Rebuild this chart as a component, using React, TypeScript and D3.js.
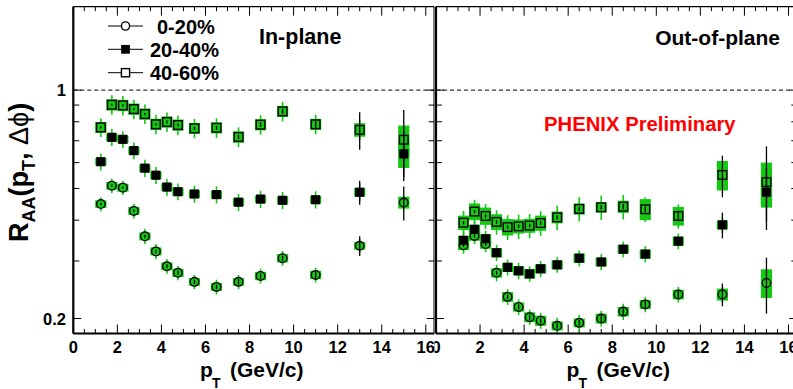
import React from "react";
import * as d3 from "d3";

// ---------------- data ----------------
const ptBins = [1.25, 1.75, 2.25, 2.75, 3.25, 3.75, 4.25, 4.75, 5.5, 6.5, 7.5, 8.5, 9.5, 11, 13, 15];
const legendLabels = ["0-20%", "20-40%", "40-60%"];
const panelTitles = ["In-plane", "Out-of-plane"];
const xTickLabels = [0, 2, 4, 6, 8, 10, 12, 14, 16];
const yTickLabels = [0.2, 1];
const yMinorTicks = [0.3, 0.4, 0.5, 0.6, 0.7, 0.8, 0.9];

// In-plane
const inV0_20 = [0.448, 0.510, 0.503, 0.427, 0.357, 0.321, 0.289, 0.276, 0.259, 0.250, 0.259, 0.270, 0.306, 0.272, 0.334, 0.453];
const inLine0_20 = [0.022, 0.026, 0.025, 0.022, 0.019, 0.017, 0.015, 0.014, 0.013, 0.013, 0.013, 0.014, 0.016, 0.014, 0.017, 0.023];
const inBox0_20 = [0.012, 0.014, 0.014, 0.012, 0.010, 0.009, 0.008, 0.008, 0.007, 0.007, 0.007, 0.008, 0.009, 0.008, 0.009, 0.019];
const inStat0_20 = [0.004, 0.004, 0.004, 0.004, 0.004, 0.004, 0.004, 0.004, 0.004, 0.004, 0.005, 0.005, 0.006, 0.008, 0.023, 0.054];

const inV20_40 = [0.604, 0.717, 0.707, 0.653, 0.577, 0.549, 0.505, 0.489, 0.481, 0.479, 0.454, 0.464, 0.460, 0.462, 0.487, 0.638];
const inLine20_40 = [0.036, 0.043, 0.042, 0.039, 0.035, 0.033, 0.030, 0.029, 0.029, 0.029, 0.027, 0.028, 0.028, 0.028, 0.029, 0.038];
const inBox20_40 = [0.016, 0.019, 0.019, 0.017, 0.015, 0.014, 0.013, 0.013, 0.013, 0.013, 0.012, 0.012, 0.012, 0.012, 0.014, 0.060];
const inStat20_40 = [0.005, 0.006, 0.006, 0.006, 0.005, 0.005, 0.005, 0.006, 0.006, 0.007, 0.008, 0.009, 0.010, 0.012, 0.041, 0.112];

const inV40_60 = [0.769, 0.902, 0.898, 0.875, 0.845, 0.786, 0.799, 0.782, 0.764, 0.767, 0.719, 0.784, 0.861, 0.786, 0.756, 0.705];
const inLine40_60 = [0.050, 0.062, 0.062, 0.060, 0.058, 0.054, 0.055, 0.054, 0.052, 0.053, 0.050, 0.054, 0.060, 0.054, 0.052, 0.050];
const inBox40_60 = [0.030, 0.036, 0.036, 0.035, 0.034, 0.031, 0.032, 0.031, 0.030, 0.030, 0.029, 0.031, 0.034, 0.031, 0.036, 0.074];
const inStat40_60 = [0.006, 0.007, 0.007, 0.007, 0.007, 0.007, 0.008, 0.008, 0.009, 0.010, 0.011, 0.013, 0.016, 0.020, 0.099, 0.164];

// Out-of-plane
const outV0_20 = [0.335, 0.358, 0.338, 0.276, 0.233, 0.217, 0.202, 0.197, 0.190, 0.194, 0.200, 0.210, 0.221, 0.237, 0.237, 0.257];
const outLine0_20 = [0.019, 0.020, 0.019, 0.016, 0.013, 0.012, 0.011, 0.011, 0.011, 0.011, 0.011, 0.012, 0.012, 0.013, 0.013, 0.014];
const outBox0_20 = [0.011, 0.012, 0.011, 0.009, 0.008, 0.007, 0.007, 0.007, 0.006, 0.006, 0.007, 0.007, 0.007, 0.008, 0.010, 0.026];
const outStat0_20 = [0.004, 0.004, 0.004, 0.004, 0.004, 0.004, 0.004, 0.004, 0.004, 0.004, 0.005, 0.005, 0.006, 0.007, 0.019, 0.050];

const outV20_40 = [0.347, 0.375, 0.351, 0.318, 0.287, 0.280, 0.274, 0.284, 0.292, 0.306, 0.298, 0.326, 0.315, 0.345, 0.387, 0.487];
const outLine20_40 = [0.020, 0.021, 0.020, 0.018, 0.016, 0.016, 0.015, 0.016, 0.016, 0.017, 0.017, 0.018, 0.018, 0.019, 0.021, 0.027];
const outBox20_40 = [0.011, 0.012, 0.011, 0.010, 0.009, 0.009, 0.009, 0.009, 0.009, 0.010, 0.009, 0.010, 0.010, 0.011, 0.012, 0.050];
const outStat20_40 = [0.004, 0.004, 0.004, 0.004, 0.004, 0.004, 0.004, 0.004, 0.005, 0.005, 0.006, 0.006, 0.007, 0.009, 0.035, 0.090];

const outV40_60 = [0.393, 0.425, 0.412, 0.395, 0.381, 0.383, 0.385, 0.392, 0.408, 0.433, 0.438, 0.440, 0.432, 0.412, 0.550, 0.523];
const outLine40_60 = [0.034, 0.037, 0.036, 0.034, 0.033, 0.033, 0.033, 0.034, 0.035, 0.037, 0.038, 0.038, 0.037, 0.035, 0.047, 0.045];
const outBox40_60 = [0.020, 0.025, 0.025, 0.022, 0.022, 0.019, 0.019, 0.021, 0.017, 0.017, 0.016, 0.019, 0.032, 0.027, 0.057, 0.077];
const outStat40_60 = [0.005, 0.005, 0.005, 0.005, 0.005, 0.005, 0.005, 0.005, 0.006, 0.007, 0.007, 0.008, 0.009, 0.014, 0.080, 0.150];

// ---------------- layout / style ----------------
const W = 793;
const H = 389;
const GREEN = "#14c814";
const FONT = "'Liberation Sans', Arial, Helvetica, sans-serif";
const yTop = 6.7;
const yBot = 333.5;

type MarkerType = "openCircle" | "filledSquare" | "openSquare";
const markerTypes: MarkerType[] = ["openCircle", "filledSquare", "openSquare"];

interface Series {
  v: number[];
  line: number[];
  box: number[];
  stat: number[];
  marker: MarkerType;
}

const inSeries: Series[] = [
  { v: inV0_20, line: inLine0_20, box: inBox0_20, stat: inStat0_20, marker: "openCircle" },
  { v: inV20_40, line: inLine20_40, box: inBox20_40, stat: inStat20_40, marker: "filledSquare" },
  { v: inV40_60, line: inLine40_60, box: inBox40_60, stat: inStat40_60, marker: "openSquare" },
];
const outSeries: Series[] = [
  { v: outV0_20, line: outLine0_20, box: outBox0_20, stat: outStat0_20, marker: "openCircle" },
  { v: outV20_40, line: outLine20_40, box: outBox20_40, stat: outStat20_40, marker: "filledSquare" },
  { v: outV40_60, line: outLine40_60, box: outBox40_60, stat: outStat40_60, marker: "openSquare" },
];

const yScale = d3.scaleLog().domain([0.18, 1.8]).range([yBot, yTop]);
const xLeft = d3.scaleLinear().domain([0, 16.4]).range([73.3, 434.6]);
const xRight = d3.scaleLinear().domain([0, 16.4]).range([436, 797.3]);

function Marker({ type, cx, cy, s = 1, fillOpen = "none" }: { type: MarkerType; cx: number; cy: number; s?: number; fillOpen?: string }) {
  if (type === "openCircle") {
    return <circle cx={cx} cy={cy} r={4.3 * s} fill={fillOpen} stroke="#000" strokeWidth={1.4} />;
  }
  if (type === "filledSquare") {
    const h = 4.6 * s;
    return <rect x={cx - h} y={cy - h} width={2 * h} height={2 * h} fill="#000" />;
  }
  const h = 4.3 * s;
  return <rect x={cx - h} y={cy - h} width={2 * h} height={2 * h} fill={fillOpen} stroke="#000" strokeWidth={1.4} />;
}

function Panel({ series, x, clipId, clipX, clipW, showYLabels }: { series: Series[]; x: d3.ScaleLinear<number, number>; clipId: string; clipX: number; clipW: number; showYLabels: boolean }) {
  const [x0, x1] = x.range();
  const minorX = d3.range(0, 16.4 + 1e-9, 0.5);
  const boxHalfW = 5.6;
  return (
    <g>
      <defs>
        <clipPath id={clipId}>
          <rect x={clipX} y={0} width={clipW} height={H} />
        </clipPath>
      </defs>
      <g clipPath={`url(#${clipId})`}>
        {minorX.map((t, i) => {
          const major = Math.abs(t / 2 - Math.round(t / 2)) < 1e-6;
          const len = major ? 9 : 4.5;
          const px = x(t);
          return (
            <g key={i}>
              <line x1={px} x2={px} y1={yBot} y2={yBot - len} stroke="#000" strokeWidth={1} />
              <line x1={px} x2={px} y1={yTop} y2={yTop + len} stroke="#000" strokeWidth={1} />
            </g>
          );
        })}
        {[...yTickLabels, ...yMinorTicks].map((t, i) => {
          const py = yScale(t);
          const len = yTickLabels.includes(t) ? 8 : 6;
          return (
            <g key={"y" + i}>
              <line x1={x0} x2={x0 + len} y1={py} y2={py} stroke="#000" strokeWidth={1} />
              <line x1={x1} x2={x1 - len} y1={py} y2={py} stroke="#000" strokeWidth={1} />
            </g>
          );
        })}
        {xTickLabels.map((t) => (
          <text key={"xl" + t} x={x(t)} y={352.5} textAnchor="middle" fontFamily={FONT} fontWeight="bold" fontSize={16.5}>
            {t}
          </text>
        ))}
        <line x1={x0} x2={x1} y1={yScale(1)} y2={yScale(1)} stroke="#000" strokeWidth={1} strokeDasharray="4,3" />

        {series.map((s, si) =>
          s.v.map((v, i) => {
            const px = x(ptBins[i]);
            return (
              <g key={`e${si}-${i}`}>
                <line x1={px} x2={px} y1={yScale(v + s.line[i])} y2={yScale(v - s.line[i])} stroke={GREEN} strokeWidth={1.6} />
                <rect
                  x={px - boxHalfW}
                  y={yScale(v + s.box[i])}
                  width={2 * boxHalfW}
                  height={yScale(v - s.box[i]) - yScale(v + s.box[i])}
                  fill={GREEN}
                />
              </g>
            );
          })
        )}
        {series.map((s, si) =>
          s.v.map((v, i) => {
            const px = x(ptBins[i]);
            return (
              <line key={`s${si}-${i}`} x1={px} x2={px} y1={yScale(v + s.stat[i])} y2={yScale(v - s.stat[i])} stroke="#000" strokeWidth={1.3} />
            );
          })
        )}
        {series.map((s, si) =>
          s.v.map((v, i) => <Marker key={`m${si}-${i}`} type={s.marker} cx={x(ptBins[i])} cy={yScale(v)} />)
        )}

        <line x1={x0} x2={x1} y1={yTop} y2={yTop} stroke="#000" strokeWidth={1.2} />
        <line x1={x0} x2={x1} y1={yBot} y2={yBot} stroke="#000" strokeWidth={2} />
        <line x1={x0} x2={x0} y1={yTop} y2={yBot} stroke="#000" strokeWidth={2.2} />
        <line x1={x1} x2={x1} y1={yTop} y2={yBot} stroke="#000" strokeWidth={2.2} />
      </g>
      {showYLabels &&
        yTickLabels.map((t) => (
          <text key={"yl" + t} x={66} y={yScale(t) + 6} textAnchor="end" fontFamily={FONT} fontWeight="bold" fontSize={16.5}>
            {t}
          </text>
        ))}
    </g>
  );
}

export default function App() {
  const legendRows = [26, 49.3, 72.7];
  return (
    <svg width={W} height={H} viewBox={`0 0 ${W} ${H}`} style={{ position: "absolute", left: 0, top: 0, background: "#fff" }}>
      <rect x={0} y={0} width={W} height={H} fill="#fff" />
      <Panel series={inSeries} x={xLeft} clipId="clipL" clipX={0} clipW={434.5} showYLabels={true} />
      <Panel series={outSeries} x={xRight} clipId="clipR" clipX={434.5} clipW={W - 434.5} showYLabels={false} />

      {legendLabels.map((lab, i) => (
        <g key={lab}>
          <line x1={108} x2={143} y1={legendRows[i]} y2={legendRows[i]} stroke="#000" strokeWidth={1} />
          <Marker type={markerTypes[i]} cx={125.5} cy={legendRows[i]} s={0.95} fillOpen="#fff" />
          <text x={i === 0 ? 157 : 150} y={legendRows[i] + 7.5} fontFamily={FONT} fontWeight="bold" fontSize={20}>
            {lab}
          </text>
        </g>
      ))}

      <text x={259} y={44} fontFamily={FONT} fontWeight="bold" fontSize={21.5}>
        {panelTitles[0]}
      </text>
      <text x={780} y={45} textAnchor="end" fontFamily={FONT} fontWeight="bold" fontSize={21}>
        {panelTitles[1]}
      </text>
      <text x={544} y={130.5} fontFamily={FONT} fontWeight="bold" fontSize={20.3} fill="#ff0000">
        PHENIX Preliminary
      </text>

      {[200, 566.5].map((px, i) => (
        <g key={"xt" + i}>
          <text x={px} y={377} fontFamily={FONT} fontWeight="bold" fontSize={21}>
            p
          </text>
          <text x={px + 12} y={388} fontFamily={FONT} fontWeight="bold" fontSize={14}>
            T
          </text>
          <text x={px + 30} y={377} fontFamily={FONT} fontWeight="bold" fontSize={21}>
            (GeV/c)
          </text>
        </g>
      ))}
      <text transform="translate(28,242) rotate(-90)" fontFamily={FONT} fontWeight="bold" fontSize={27}>
        R
        <tspan fontSize={18} dy={7}>
          AA
        </tspan>
        <tspan dy={-7}>(p</tspan>
        <tspan fontSize={18} dy={7}>
          T
        </tspan>
        <tspan dy={-7}>, </tspan>
        <tspan fontWeight="normal">Δϕ</tspan>
        <tspan>)</tspan>
      </text>
    </svg>
  );
}
